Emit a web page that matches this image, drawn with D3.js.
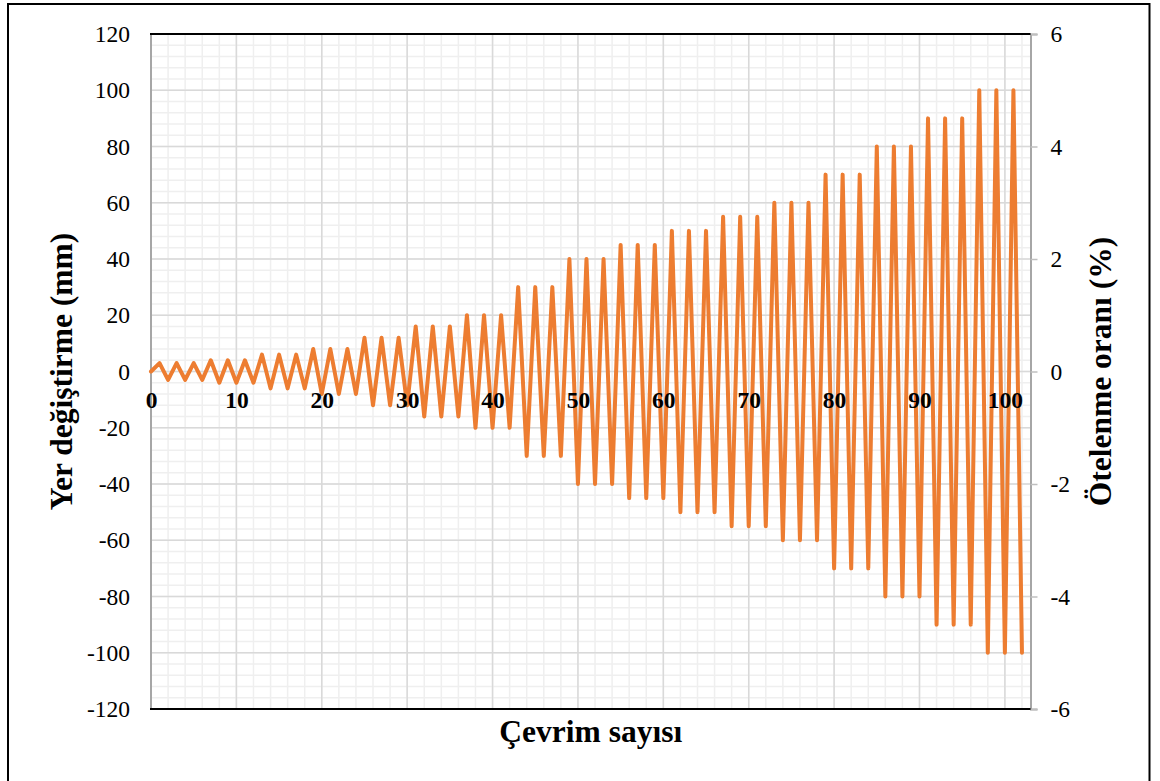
<!DOCTYPE html>
<html>
<head>
<meta charset="utf-8">
<script src="https://cdn.jsdelivr.net/npm/d3@7"></script>
<style>
  html, body { margin: 0; padding: 0; background: #fff; }
  svg { display: block; }
  text { font-family: "Liberation Serif", "Times New Roman", serif; }
</style>
</head>
<body>
<svg id="chart" width="1160" height="781"></svg>
<script>
// Loading protocol: displacement (mm) at each half-cycle step
const displacement = [
  0,
  3, -3, 3, -3, 3, -3,
  4, -4, 4, -4, 4, -4,
  6, -6, 6, -6, 6, -6,
  8, -8, 8, -8, 8, -8,
  12, -12, 12, -12, 12, -12,
  16, -16, 16, -16, 16, -16,
  20, -20, 20, -20, 20, -20,
  30, -30, 30, -30, 30, -30,
  40, -40, 40, -40, 40, -40,
  45, -45, 45, -45, 45, -45,
  50, -50, 50, -50, 50, -50,
  55, -55, 55, -55, 55, -55,
  60, -60, 60, -60, 60, -60,
  70, -70, 70, -70, 70, -70,
  80, -80, 80, -80, 80, -80,
  90, -90, 90, -90, 90, -90,
  100, -100, 100, -100, 100, -100
];

const cycleTicks = [0, 10, 20, 30, 40, 50, 60, 70, 80, 90, 100];
const displacementTicks = [-120, -100, -80, -60, -40, -20, 0, 20, 40, 60, 80, 100, 120];
const driftTicks = [-6, -4, -2, 0, 2, 4, 6];

const xTitle = "Çevrim sayısı";
const yTitle = "Yer değiştirme (mm)";
const y2Title = "Ötelenme oranı (%)";

const serif = '"Liberation Serif", "Times New Roman", serif';
const svg = d3.select("#chart");
const plotL = 151, plotR = 1030.5, plotT = 34, plotB = 709;

const x = d3.scaleLinear().domain([0, 103]).range([plotL, plotR]);
const y = d3.scaleLinear().domain([-120, 120]).range([plotB, plotT]);
const y2 = d3.scaleLinear().domain([-6, 6]).range([plotB, plotT]);

// outer frame
svg.append("rect")
  .attr("x", 8).attr("y", 4)
  .attr("width", 1141.5).attr("height", 800)
  .attr("fill", "#fff").attr("stroke", "#000").attr("stroke-width", 2);

const grid = svg.append("g");
// minor gridlines
grid.selectAll("line.vminor").data(d3.range(0, 103, 2)).join("line")
  .attr("x1", d => x(d)).attr("x2", d => x(d))
  .attr("y1", plotT).attr("y2", plotB)
  .attr("stroke", "#efefef").attr("stroke-width", 1.5);
grid.selectAll("line.hminor").data(d3.range(-120, 121, 4)).join("line")
  .attr("y1", d => y(d)).attr("y2", d => y(d))
  .attr("x1", plotL).attr("x2", plotR)
  .attr("stroke", "#efefef").attr("stroke-width", 1.5);
// major gridlines
grid.selectAll("line.vmajor").data(cycleTicks).join("line")
  .attr("x1", d => x(d)).attr("x2", d => x(d))
  .attr("y1", plotT).attr("y2", plotB)
  .attr("stroke", "#d9d9d9").attr("stroke-width", 1.5);
grid.selectAll("line.hmajor").data(displacementTicks).join("line")
  .attr("y1", d => y(d)).attr("y2", d => y(d))
  .attr("x1", plotL).attr("x2", plotR)
  .attr("stroke", "#d9d9d9").attr("stroke-width", 1.5);

// left axis
const yAxis = svg.append("g")
  .attr("transform", `translate(${plotL},0)`)
  .call(d3.axisLeft(y).tickValues(displacementTicks).tickSize(0).tickPadding(21).tickFormat(d => String(d)))
  .attr("font-family", serif).attr("font-size", 23.5);
yAxis.select(".domain").remove();
yAxis.selectAll("text").attr("fill", "#000");
svg.append("line")
  .attr("x1", plotL).attr("x2", plotL).attr("y1", plotT).attr("y2", plotB)
  .attr("stroke", "#a6a6a6").attr("stroke-width", 2);

// right axis (drift ratio)
const y2Axis = svg.append("g")
  .attr("transform", `translate(${plotR},0)`)
  .call(d3.axisRight(y2).tickValues(driftTicks).tickSize(7).tickPadding(13).tickFormat(d => String(d)))
  .attr("font-family", serif).attr("font-size", 23.5);
y2Axis.select(".domain").attr("stroke", "#a6a6a6").attr("stroke-width", 2);
y2Axis.selectAll(".tick line").attr("stroke", "#bfbfbf").attr("stroke-width", 1.5);
y2Axis.selectAll("text").attr("fill", "#000");

// plot area top and bottom edges
svg.append("line").attr("x1", plotL - 1).attr("x2", plotR).attr("y1", plotT).attr("y2", plotT)
  .attr("stroke", "#000").attr("stroke-width", 2);
svg.append("line").attr("x1", plotL - 1).attr("x2", plotR).attr("y1", plotB).attr("y2", plotB)
  .attr("stroke", "#000").attr("stroke-width", 2);

// loading history line
const line = d3.line().x((d, i) => x(i)).y(d => y(d));
svg.append("path")
  .datum(displacement)
  .attr("d", line)
  .attr("fill", "none")
  .attr("stroke", "#ED7D31")
  .attr("stroke-width", 4)
  .attr("stroke-linejoin", "round")
  .attr("stroke-linecap", "round");

// cycle axis labels along the zero line
const xAxis = svg.append("g")
  .attr("transform", `translate(0,${y(0)})`)
  .call(d3.axisBottom(x).tickValues(cycleTicks).tickSize(0).tickPadding(20).tickFormat(d => String(d)))
  .attr("font-family", serif).attr("font-size", 23.5).attr("font-weight", "bold");
xAxis.select(".domain").remove();
xAxis.selectAll("text").attr("fill", "#000");

// titles
svg.append("text")
  .attr("x", (plotL + plotR) / 2).attr("y", 742)
  .attr("text-anchor", "middle")
  .attr("font-size", 31.5).attr("font-weight", "bold")
  .text(xTitle);
svg.append("text")
  .attr("transform", `translate(72,${(plotT + plotB) / 2}) rotate(-90)`)
  .attr("text-anchor", "middle")
  .attr("font-size", 31.5).attr("font-weight", "bold")
  .text(yTitle);
svg.append("text")
  .attr("transform", `translate(1111,${(plotT + plotB) / 2}) rotate(-90)`)
  .attr("text-anchor", "middle")
  .attr("font-size", 31.5).attr("font-weight", "bold")
  .text(y2Title);
</script>
</body>
</html>
